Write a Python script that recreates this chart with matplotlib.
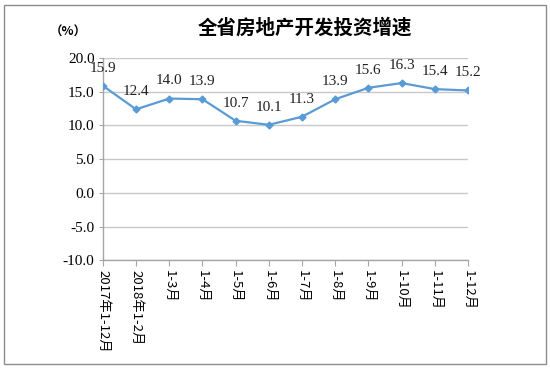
import numpy as np
import matplotlib.pyplot as plt
from matplotlib.patches import Rectangle

# data
categories = ['2017年1-12月', '2018年1-2月', '1-3月', '1-4月', '1-5月', '1-6月',
              '1-7月', '1-8月', '1-9月', '1-10月', '1-11月', '1-12月']
growth = [15.9, 12.4, 14.0, 13.9, 10.7, 10.1, 11.3, 13.9, 15.6, 16.3, 15.4, 15.2]
yticks = [-10, -5, 0, 5, 10, 15, 20]

plt.rcParams['font.family'] = ['Liberation Serif', 'Noto Sans CJK SC', 'DejaVu Sans']

fig = plt.figure(figsize=(5.5, 3.68), dpi=100)
ax = fig.add_axes([0.187, 0.293, 0.664, 0.549])

x = np.arange(len(categories))
ax.plot(x, growth, color='#5B9BD5', lw=1.6, marker='D', ms=3.5, zorder=3)

for xi, v in zip(x, growth):
    ax.annotate('%.1f' % v, (xi, v), xytext=(0, 8), textcoords='offset points',
                ha='center', va='bottom', fontsize=11, color='#222222')

ax.set_xlim(0, len(categories) - 1)
ax.set_ylim(-10, 20)
ax.set_yticks(yticks)
ax.set_yticklabels(['%.1f' % t for t in yticks], fontsize=11)
ax.set_xticks(x)
ax.set_xticklabels(categories, rotation=-90, fontsize=9.5,
                   family=['Noto Sans CJK SC', 'DejaVu Sans'])
ax.yaxis.grid(True, color='#C8C8C8', lw=1)
ax.set_axisbelow(True)

for s in ['top', 'right']:
    ax.spines[s].set_visible(False)
for s in ['left', 'bottom']:
    ax.spines[s].set_color('#A6A6A6')
    ax.spines[s].set_linewidth(1)
ax.tick_params(axis='x', length=4, color='#A6A6A6', pad=3)
ax.tick_params(axis='y', length=3, color='#A6A6A6', pad=3)

fig.text(0.555, 0.924, '全省房地产开发投资增速', ha='center', va='center',
         fontsize=14, fontweight='bold', family=['Noto Sans CJK SC'])
fig.text(0.125, 0.913, '（%）', ha='center', va='center', fontsize=9,
         fontweight='bold', family=['Noto Sans CJK SC'])

fig.patches.append(Rectangle((0.008, 0.012), 0.984, 0.975, transform=fig.transFigure,
                             fill=False, edgecolor='#8C8C8C', lw=1))

fig.savefig('out.png', dpi=100)
